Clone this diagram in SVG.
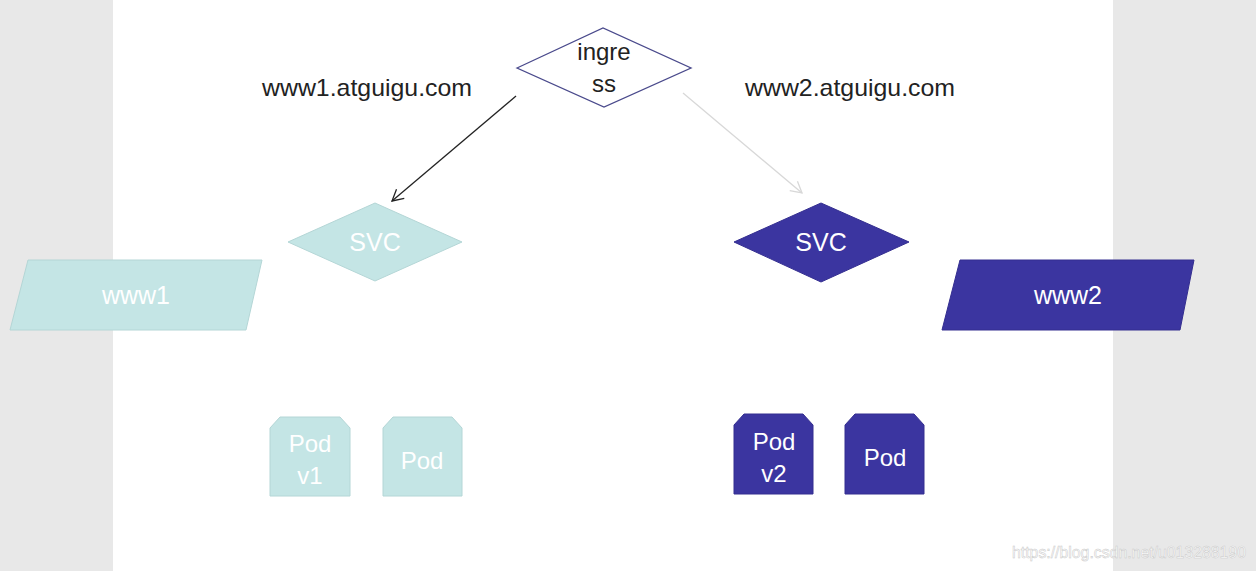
<svg xmlns="http://www.w3.org/2000/svg" width="1256" height="571" viewBox="0 0 1256 571">
<style>
text{font-family:"Liberation Sans",Arial,sans-serif;}
.lbl{font-size:24px;fill:#222;}
.wt{fill:#ffffff;font-size:25px;text-anchor:middle;}
.pt{fill:#ffffff;font-size:24px;text-anchor:middle;}
.light{fill:#c4e5e5;stroke:#b4d6d6;stroke-width:1;}
.dark{fill:#3b35a0;stroke:#342e90;stroke-width:1;}
</style>
<defs>
<marker id="ah" markerWidth="14" markerHeight="14" refX="12" refY="7" orient="auto" markerUnits="userSpaceOnUse">
<path d="M1,1 L12,7 L1,13" fill="none" stroke="#222" stroke-width="1.3"/>
</marker>
<marker id="ahl" markerWidth="14" markerHeight="14" refX="12" refY="7" orient="auto" markerUnits="userSpaceOnUse">
<path d="M1,1 L12,7 L1,13" fill="none" stroke="#d8d8d8" stroke-width="1.3"/>
</marker>
</defs>
<rect x="0" y="0" width="1256" height="571" fill="#e8e8e8"/>
<rect x="113" y="0" width="1000" height="571" fill="#ffffff"/>
<g id="ingress">
<polygon points="517,68 603,28 691,68 604,107" fill="#ffffff" stroke="#4a4a8c" stroke-width="1.3"/>
<text x="604" y="60" font-size="24" fill="#222" text-anchor="middle">ingre</text>
<text x="604" y="92" font-size="24" fill="#222" text-anchor="middle">ss</text>
</g>
<g id="label1"><text class="lbl" x="262" y="96" textLength="210" lengthAdjust="spacingAndGlyphs">www1.atguigu.com</text></g>
<g id="label2"><text class="lbl" x="745" y="96" textLength="210" lengthAdjust="spacingAndGlyphs">www2.atguigu.com</text></g>
<g id="connectors">
<line x1="516" y1="96" x2="392" y2="201" stroke="#222" stroke-width="1.3" marker-end="url(#ah)"/>
<line x1="683" y1="93" x2="802" y2="193" stroke="#d8d8d8" stroke-width="1.3" marker-end="url(#ahl)"/>
</g>
<g id="svc1">
<polygon class="light" points="288,242 375,203 462,242 375,281"/>
<text class="wt" x="375" y="251">SVC</text>
</g>
<g id="svc2">
<polygon class="dark" points="734,242 821,203 909,242 821,282"/>
<text class="wt" x="821" y="251">SVC</text>
</g>
<g id="www1">
<polygon class="light" points="28,260 262,260 246,330 10,330"/>
<text class="wt" x="136" y="304">www1</text>
</g>
<g id="www2">
<polygon class="dark" points="960,260 1194,260 1180,330 942,330"/>
<text class="wt" x="1068" y="304">www2</text>
</g>
<g id="pod-v1">
<polygon class="light" points="280,417 340,417 350,428 350,496 270,496 270,428"/>
<text class="pt" x="310" y="452">Pod</text>
<text class="pt" x="310" y="484">v1</text>
</g>
<g id="pod1">
<polygon class="light" points="393,417 452,417 462,428 462,496 383,496 383,428"/>
<text class="pt" x="422" y="469">Pod</text>
</g>
<g id="pod-v2">
<polygon class="dark" points="744,414 803,414 813,425 813,494 734,494 734,425"/>
<text class="pt" x="774" y="450">Pod</text>
<text class="pt" x="774" y="482">v2</text>
</g>
<g id="pod2">
<polygon class="dark" points="855,414 914,414 924,425 924,494 845,494 845,425"/>
<text class="pt" x="885" y="466">Pod</text>
</g>
<text x="1012" y="558" font-size="16" fill="#ffffff" stroke="#c8c8c8" stroke-width="0.5" textLength="234" lengthAdjust="spacingAndGlyphs">https://blog.csdn.net/u013288190</text>
</svg>
